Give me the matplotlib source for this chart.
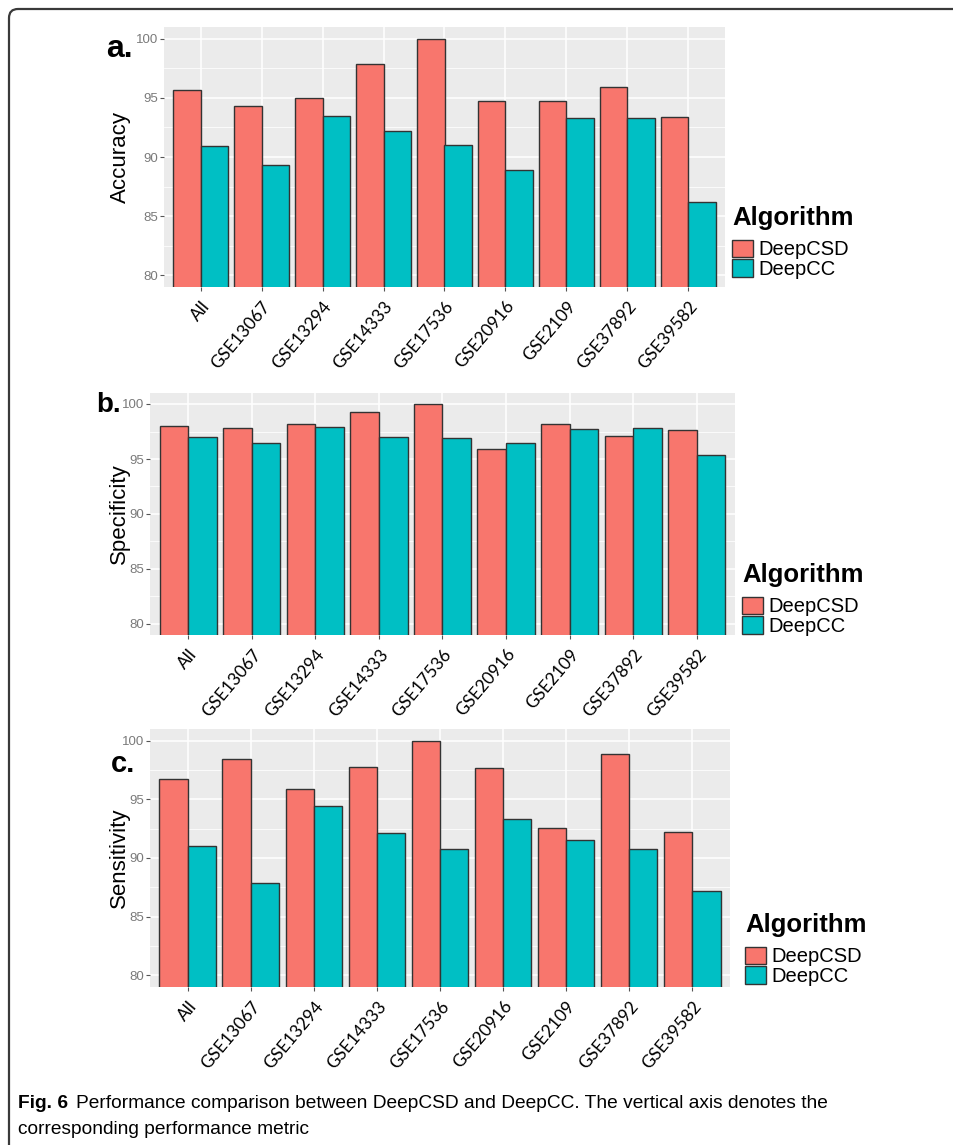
import matplotlib
matplotlib.use("Agg")
import matplotlib.pyplot as plt
import numpy as np
from matplotlib.patches import Patch
from matplotlib.path import Path
from matplotlib.patches import PathPatch
from matplotlib.ticker import MultipleLocator

# ---- data ----
categories = ["All", "GSE13067", "GSE13294", "GSE14333", "GSE17536",
              "GSE20916", "GSE2109", "GSE37892", "GSE39582"]
algorithms = ["DeepCSD", "DeepCC"]

acc_deepcsd = [95.7, 94.3, 95.0, 97.9, 100.0, 94.7, 94.7, 95.9, 93.4]
acc_deepcc = [90.9, 89.3, 93.5, 92.2, 91.0, 88.9, 93.3, 93.3, 86.2]

spec_deepcsd = [98.0, 97.8, 98.2, 99.3, 100.0, 95.9, 98.2, 97.1, 97.6]
spec_deepcc = [97.0, 96.5, 97.9, 97.0, 96.9, 96.5, 97.7, 97.8, 95.4]

sens_deepcsd = [96.7, 98.4, 95.9, 97.8, 100.0, 97.7, 92.6, 98.9, 92.2]
sens_deepcc = [91.0, 87.9, 94.4, 92.1, 90.8, 93.3, 91.5, 90.8, 87.2]

colors = ["#F8766D", "#00BFC4"]

W, H = 954, 1145
fig = plt.figure(figsize=(W / 100, H / 100), dpi=100)

SANS = ["Liberation Sans", "DejaVu Sans"]


def fx(px):
    return px / W


def fy(py):
    return 1 - py / H


panels = [
    # letter, y label, series, panel box in px (left, top, right, bottom),
    # letter position, letter size, y-label right edge, legend top-left
    ("a.", "Accuracy", (acc_deepcsd, acc_deepcc), (164, 27, 725, 287), (106, 57), 23, 131, (732, 206)),
    ("b.", "Specificity", (spec_deepcsd, spec_deepcc), (150, 393, 735, 635), (96, 412), 20, 130, (742, 563)),
    ("c.", "Sensitivity", (sens_deepcsd, sens_deepcc), (150, 729, 730, 987), (111, 772), 21, 130, (745, 913)),
]

x = np.arange(len(categories))
bw = 0.45

for letter, ylabel, series, (l, t, r, b), (lx, ly), lsize, ylx, (gx, gy) in panels:
    ax = fig.add_axes([fx(l), fy(b), fx(r - l), (b - t) / H])
    ax.set_facecolor("#EBEBEB")
    for k, vals in enumerate(series):
        ax.bar(x + (k - 0.5) * bw, vals, width=bw, color=colors[k],
               edgecolor="#333333", linewidth=1.0, zorder=3)
    ax.set_ylim(79, 101)
    ax.set_xlim(-0.6, len(categories) - 0.4)
    ax.yaxis.set_major_locator(MultipleLocator(5))
    ax.yaxis.set_minor_locator(MultipleLocator(2.5))
    ax.grid(True, which="major", color="white", linewidth=1.1, zorder=0)
    ax.grid(True, which="minor", axis="y", color="white", linewidth=0.55, zorder=0)
    ax.set_axisbelow(True)
    for s in ax.spines.values():
        s.set_visible(False)
    ax.tick_params(axis="y", which="minor", length=0)
    ax.tick_params(axis="both", which="major", length=3, width=0.8, color="#555555")
    ax.tick_params(axis="y", labelsize=9.5, labelcolor="#7A7A7A", pad=1.5)
    for lab in ax.get_yticklabels():
        lab.set_family(SANS)
    ax.set_xticks(x)
    ax.set_xticklabels(categories, rotation=50, ha="right", va="top",
                       rotation_mode="anchor", fontsize=12.5,
                       family=["Lato", "DejaVu Sans"], color="black")
    ax.tick_params(axis="x", pad=5)
    ax.set_ylabel(ylabel, fontsize=16, family=SANS, color="black")
    ax.yaxis.set_label_coords((ylx - l) / (r - l), 0.5)

    fig.text(fx(lx), fy(ly), letter, fontsize=lsize, fontweight="bold",
             family=SANS, ha="left", va="baseline")

    handles = [Patch(facecolor=colors[k], edgecolor="#333333", linewidth=1.0,
                     label=algorithms[k]) for k in range(2)]
    leg = fig.legend(handles=handles, title="Algorithm", loc="upper left",
                     bbox_to_anchor=(fx(gx), fy(gy)), frameon=False,
                     fontsize=14.5, title_fontsize=18.5, alignment="left",
                     handlelength=1.05, handleheight=0.95, handletextpad=0.25,
                     labelspacing=0.0, borderpad=0.0, borderaxespad=0.0)
    for txt in leg.get_texts():
        txt.set_family(SANS)
    leg.get_title().set_family(SANS)
    leg.get_title().set_fontweight("bold")
    leg._legend_box.sep = 7

# ---- rounded frame on the top-left ----
rad = 9
x0, y0 = fx(9), fy(9)
rx, ry = rad / W, rad / H
verts = [(x0, -0.01), (x0, y0 - ry), (x0, y0), (x0 + rx, y0), (1.01, y0)]
codes = [Path.MOVETO, Path.LINETO, Path.CURVE3, Path.CURVE3, Path.LINETO]
fig.add_artist(PathPatch(Path(verts, codes), transform=fig.transFigure,
                         fill=False, edgecolor="#3a3a3a", linewidth=1.6))

# ---- caption ----
cap_size = 13.8
t1 = fig.text(fx(18), fy(1108), "Fig. 6", fontsize=cap_size, fontweight="bold",
              family=SANS, ha="left", va="baseline")
fig.canvas.draw()
bb = t1.get_window_extent()
fig.text(bb.x1 / W + fx(8), fy(1108),
         "Performance comparison between DeepCSD and DeepCC. The vertical axis denotes the",
         fontsize=cap_size, family=SANS, ha="left", va="baseline")
fig.text(fx(18), fy(1134), "corresponding performance metric",
         fontsize=cap_size, family=SANS, ha="left", va="baseline")

fig.savefig("out.png", dpi=100)
